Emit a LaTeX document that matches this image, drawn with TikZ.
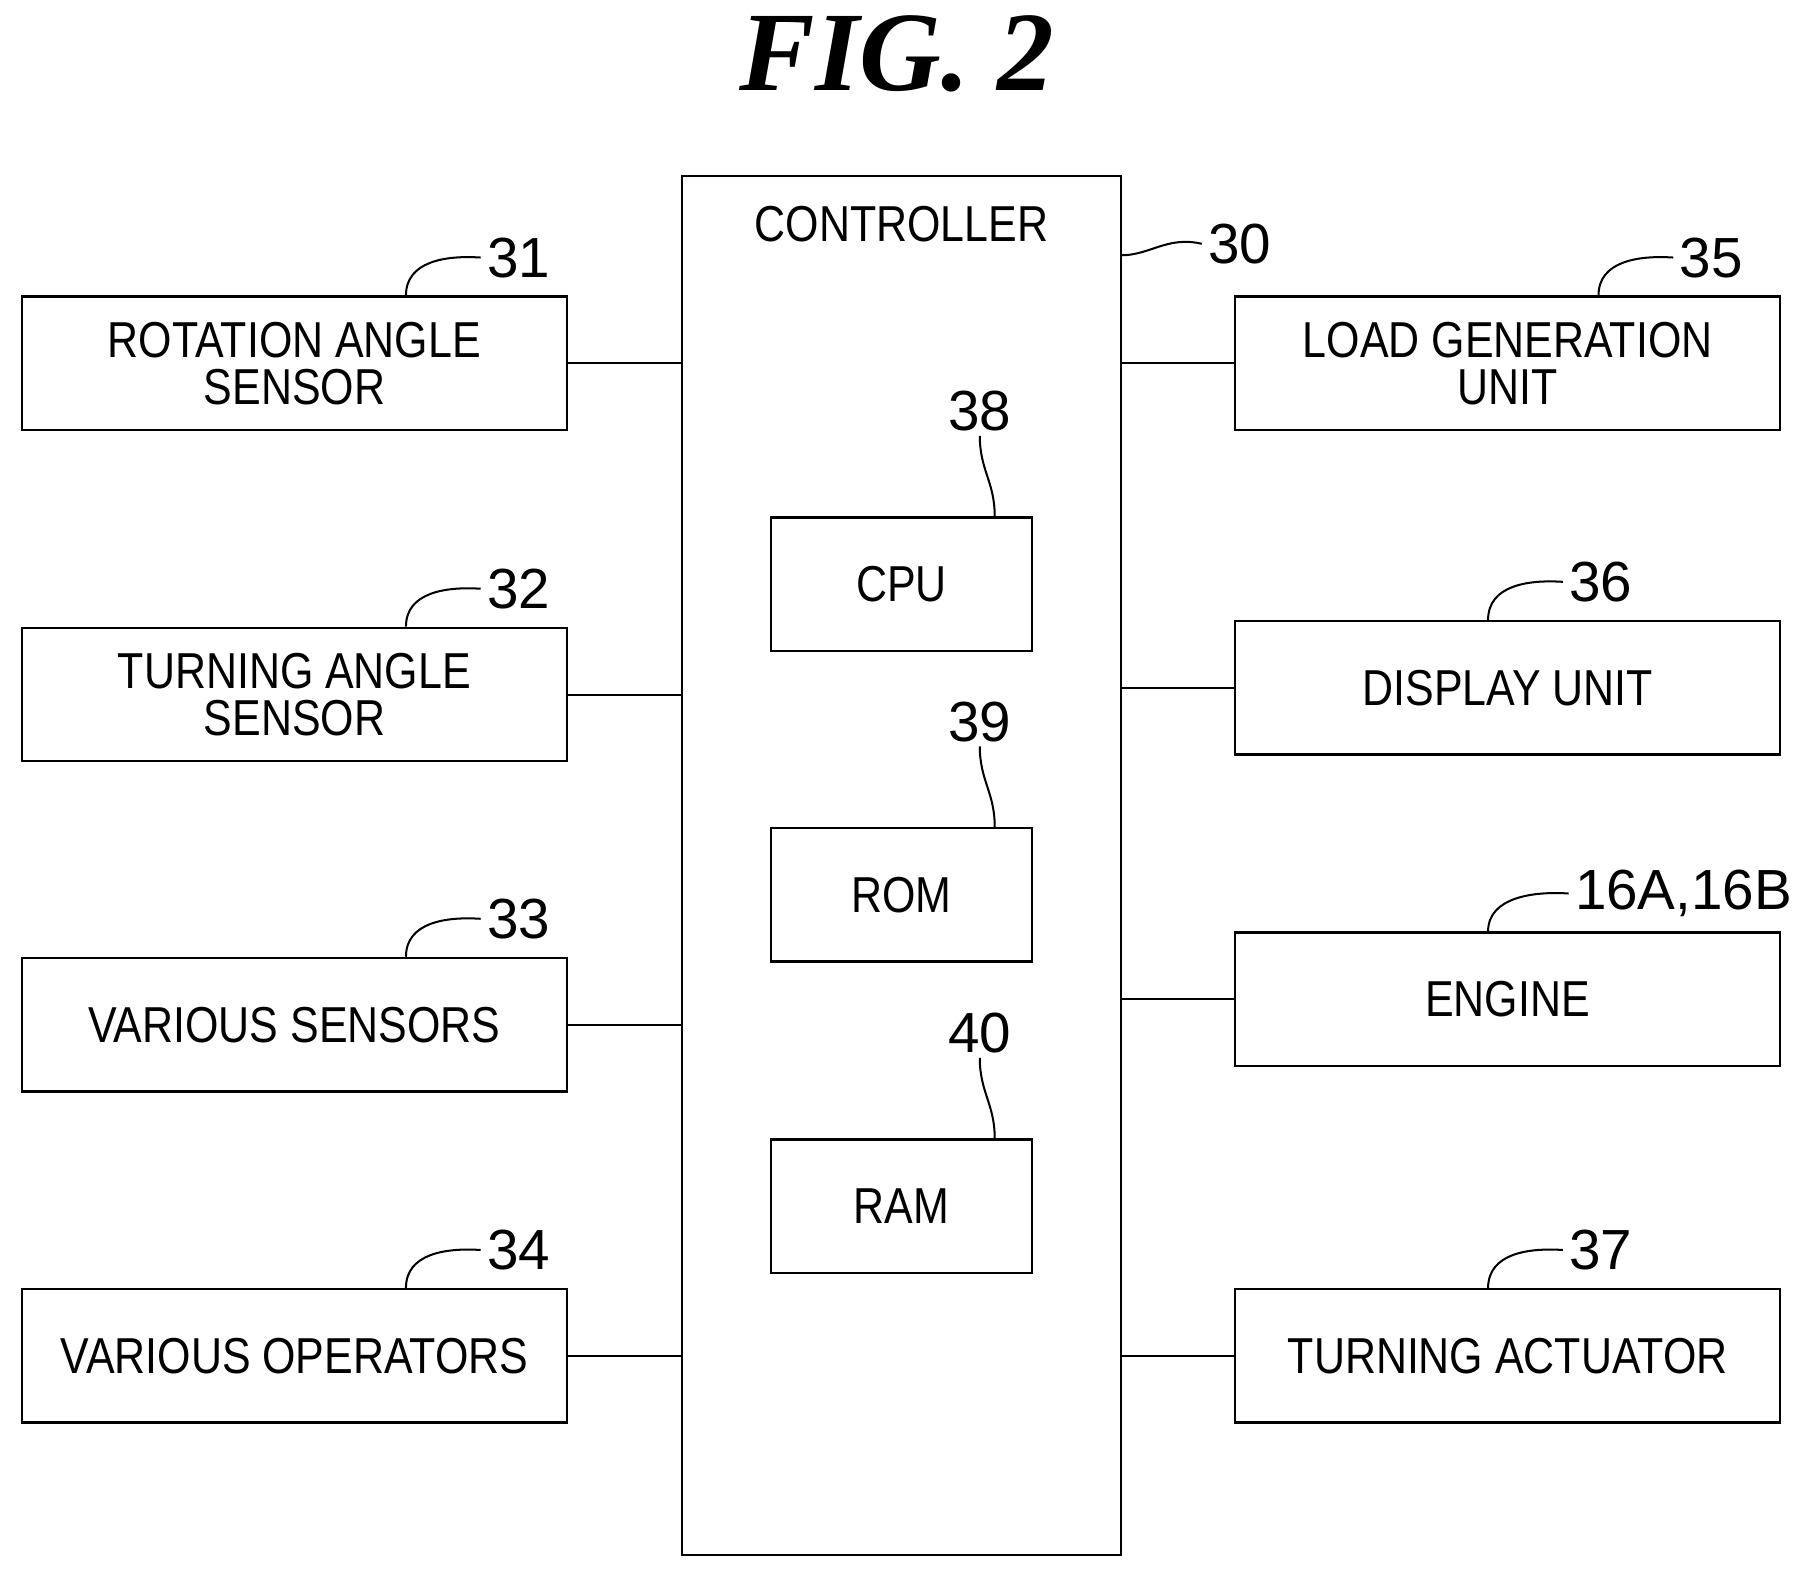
\documentclass[tikz,border=0pt]{standalone}
\usepackage{fontspec}
\usepackage{graphicx}
\setmainfont{Liberation Sans}
\newfontfamily\titlefont{Liberation Serif}
\newcommand\nt[1]{\scalebox{0.85}[1]{#1}}
\begin{document}
\begin{tikzpicture}[x=0.02cm,y=-0.02cm,
  box/.style={draw,line width=1.2pt,minimum width=9.48cm,minimum height=2.32cm,align=center,inner sep=0pt,font=\fontsize{25}{23}\selectfont},
  ibox/.style={draw,line width=1.2pt,minimum width=4.54cm,minimum height=2.32cm,align=center,inner sep=0pt,font=\fontsize{25}{23}\selectfont},
  num/.style={font=\fontsize{28}{30}\selectfont,inner sep=0pt},
  ld/.style={line width=1pt},
  cn/.style={line width=1pt}]
\useasboundingbox (0,0) rectangle (1560,1364);
\node[font=\titlefont\fontsize{56}{60}\selectfont\bfseries\itshape] (title) at (780,47) {FIG. 2};
\draw[line width=1.2pt] (593,153) rectangle (975,1352);
\coordinate (ctl) at (784,153);
\node[font=\fontsize{25}{23}\selectfont] (ctltext) at (784,195) {\nt{CONTROLLER}};
% left boxes
\node[box] (b31) at (256,316) {\nt{ROTATION ANGLE}\\\nt{SENSOR}};
\node[box] (b32) at (256,604) {\nt{TURNING ANGLE}\\\nt{SENSOR}};
\node[box] (b33) at (256,891) {\nt{VARIOUS SENSORS}};
\node[box] (b34) at (256,1179) {\nt{VARIOUS OPERATORS}};
% right boxes
\node[box] (b35) at (1311,316) {\nt{LOAD GENERATION}\\\nt{UNIT}};
\node[box] (b36) at (1311,598) {\nt{DISPLAY UNIT}};
\node[box] (b16) at (1311,869) {\nt{ENGINE}};
\node[box] (b37) at (1311,1179) {\nt{TURNING ACTUATOR}};
% inner
\node[ibox] (cpu) at (784,508) {\nt{CPU}};
\node[ibox] (rom) at (784,778) {\nt{ROM}};
\node[ibox] (ram) at (784,1049) {\nt{RAM}};
% connectors
\foreach \n/\y in {b31/316,b32/604,b33/891,b34/1179}{
  \coordinate (c\n) at (593,\y);
  \draw[cn] (\n.east) -- (c\n);}
\foreach \n/\y in {b35/316,b36/598,b16/869,b37/1179}{
  \coordinate (c\n) at (975,\y);
  \draw[cn] (\n.west) -- (c\n);}
% labels with leaders
\foreach \n/\x/\t in {b31/353/31,b32/353/32,b33/353/33,b34/353/34,b35/1390/35,b36/1294/36,b37/1294/37}{
  \path (\n.north) ++(0,0) coordinate (tmp);
  \coordinate (s\n) at (\x,0 |- \n.north);
  \draw[ld] (s\n) .. controls ++(0,-30) and ++(-30,-2) .. ++(65,-33) coordinate (e\n);
  \node[num,anchor=west] (l\n) at ([xshift=3pt]e\n) {\t};
}
\coordinate (sb16) at (1294,0 |- b16.north);
\draw[ld] (sb16) .. controls ++(0,-30) and ++(-30,-2) .. ++(70,-33) coordinate (eb16);
\node[num,anchor=west] (lb16) at ([xshift=3pt]eb16) {16A,16B};
% 30
\coordinate (s30) at (975,222);
\draw[ld] (s30) .. controls (1000,222) and (1015,205) .. (1045,212) coordinate (e30);
\node[num,anchor=west] (l30) at ([xshift=3pt]e30) {30};
% inner labels
\foreach \n/\t in {cpu/38,rom/39,ram/40}{
  \coordinate (s\n) at ([xshift=1.62cm]\n.north);
  \draw[ld] (s\n) .. controls ++(0,-30) and ++(0,30) .. ++(-13,-70) coordinate (e\n);
  \node[num,anchor=south] (l\n) at ([yshift=2pt]e\n) {\t};
}
\end{tikzpicture}
\end{document}
